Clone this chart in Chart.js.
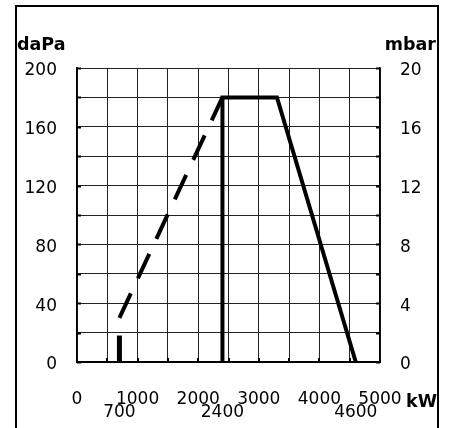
<!DOCTYPE html>
<html>
<head>
<meta charset="utf-8">
<script src="https://cdn.jsdelivr.net/npm/chart.js@4/dist/chart.umd.min.js"></script>
<style>
  html, body { margin: 0; padding: 0; background: #fff; overflow: hidden; }
  #wrap { position: relative; width: 454px; height: 428px; }
  #wrap canvas { position: absolute; left: 0; top: 0; }
  #frame {
    position: absolute; left: 15px; top: 5px; width: 424px; height: 440px;
    box-sizing: border-box; border: 2px solid #000; border-bottom: none;
    pointer-events: none;
  }
</style>
</head>
<body>
<div id="wrap">
  <canvas id="chart" width="454" height="428"></canvas>
  <div id="frame"></div>
</div>
<script>
// Burner working field: combustion-head pressure against output
const powerLabelled = [0, 1000, 2000, 3000, 4000, 5000];   // kW
const powerMarked = [700, 2400, 4600];                      // kW, second label row
const daPaLabelled = [0, 40, 80, 120, 160, 200];
const mbarLabelled = [0, 4, 8, 12, 16, 20];

// Main working range outline
const rangePower = [2400, 2400, 3300, 4600];
const rangePressure = [0, 180, 180, 0];
// Start-up ramp
const rampPower = [700, 2400];
const rampPressure = [30, 180];
// Minimum output marker
const minPower = [700, 700];
const minPressure = [0, 18];

const toPoints = (xs, ys) => xs.map((x, i) => ({ x, y: ys[i] }));

const FONT = "'DejaVu Sans', 'Liberation Sans', sans-serif";
const GRID = '#222';
const isMarked = v => powerMarked.includes(v);

// Short inward tick marks along the plot frame
const innerTicks = {
  id: 'innerTicks',
  afterDatasetsDraw(chart) {
    const { ctx, chartArea: a, scales } = chart;
    ctx.save();
    ctx.strokeStyle = '#000';
    ctx.lineWidth = 2;
    ctx.beginPath();
    scales.y.ticks.forEach(t => {
      const py = Math.round(scales.y.getPixelForValue(t.value)) + 0.5;
      ctx.moveTo(a.left, py); ctx.lineTo(a.left + 4, py);
      ctx.moveTo(a.right, py); ctx.lineTo(a.right - 4, py);
    });
    scales.x.ticks.forEach(t => {
      if (isMarked(t.value)) return;
      const px = Math.round(scales.x.getPixelForValue(t.value));
      ctx.moveTo(px, a.bottom); ctx.lineTo(px, a.bottom - 4);
    });
    ctx.stroke();
    ctx.restore();
  }
};

// Unit captions
const unitCaptions = {
  id: 'unitCaptions',
  afterDraw(chart) {
    const { ctx, chartArea: a } = chart;
    ctx.save();
    ctx.fillStyle = '#000';
    ctx.font = 'bold 17.5px ' + FONT;
    ctx.textBaseline = 'alphabetic';
    ctx.textAlign = 'left';
    ctx.fillText('daPa', 17, a.top - 18);
    ctx.textAlign = 'right';
    ctx.fillText('mbar', 436, a.top - 18);
    ctx.textAlign = 'left';
    ctx.fillText('kW', a.right + 26, a.bottom + 44.5);
    ctx.restore();
  }
};

const lineSet = (pts, width, dash) => ({
  data: pts,
  borderColor: '#000',
  borderWidth: width,
  borderDash: dash || [],
  borderCapStyle: 'butt',
  borderJoinStyle: 'miter',
  pointRadius: 0,
  fill: false,
  tension: 0,
  yAxisID: 'y',
  xAxisID: 'x'
});

new Chart(document.getElementById('chart'), {
  type: 'line',
  data: {
    datasets: [
      lineSet(toPoints(rangePower, rangePressure), 4),
      lineSet(toPoints(rampPower, rampPressure), 4, [27, 16.6]),
      lineSet(toPoints(minPower, minPressure), 5)
    ]
  },
  options: {
    responsive: false,
    devicePixelRatio: 1,
    animation: false,
    events: [],
    layout: { padding: { top: 68, left: 0, right: 0, bottom: 0 } },
    plugins: { legend: { display: false }, tooltip: { enabled: false } },
    scales: {
      x: {
        type: 'linear', position: 'bottom',
        min: 0, max: 5000,
        afterBuildTicks: s => {
          const vals = [];
          for (let v = 0; v <= 5000; v += 500) vals.push(v);
          vals.push(...powerMarked);
          s.ticks = vals.sort((p, q) => p - q).map(v => ({ value: v }));
        },
        afterFit: s => { s.height = 66; },
        ticks: {
          autoSkip: false, maxRotation: 0, minRotation: 0,
          padding: 31, color: '#000',
          font: { family: FONT, size: 17, lineHeight: 0.78 },
          callback: v => isMarked(v) ? ['', String(v)]
                         : (powerLabelled.includes(v) ? String(v) : '')
        },
        grid: {
          color: c => (c.tick && isMarked(c.tick.value)) ? 'rgba(0,0,0,0)' : GRID,
          lineWidth: 1, drawTicks: false
        },
        border: { display: true, color: '#000', width: 2 }
      },
      y: {
        type: 'linear', position: 'left',
        min: 0, max: 200,
        afterBuildTicks: s => {
          const t = [];
          for (let v = 0; v <= 200; v += 20) t.push({ value: v });
          s.ticks = t;
        },
        afterFit: s => { s.width = 77; },
        ticks: {
          autoSkip: false, padding: 20, labelOffset: 3, color: '#000',
          font: { family: FONT, size: 17 },
          callback: v => daPaLabelled.includes(v) ? String(v) : ''
        },
        grid: { color: GRID, lineWidth: 1, drawTicks: false },
        border: { display: true, color: '#000', width: 1.5 }
      },
      y2: {
        type: 'linear', position: 'right',
        min: 0, max: 20,
        afterBuildTicks: s => {
          const t = [];
          for (let v = 0; v <= 20; v += 2) t.push({ value: v });
          s.ticks = t;
        },
        afterFit: s => { s.width = 74; },
        ticks: {
          autoSkip: false, padding: 20, labelOffset: 3, color: '#000',
          font: { family: FONT, size: 17 },
          callback: v => mbarLabelled.includes(v) ? String(v) : ''
        },
        grid: { display: false, drawTicks: false },
        border: { display: true, color: '#000', width: 1.5 }
      }
    }
  },
  plugins: [innerTicks, unitCaptions]
});
</script>
</body>
</html>
